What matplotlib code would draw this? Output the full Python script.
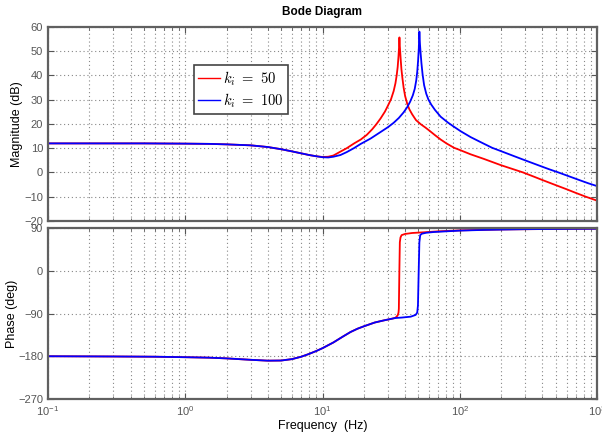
import matplotlib
matplotlib.use("Agg")
from matplotlib import pyplot as plt
from matplotlib.ticker import LogLocator, NullFormatter, FixedLocator

# values
f_mag_red = [0.1, 0.2, 0.5, 1.0, 1.5, 2.0, 3.0, 4.0, 5.0, 6.0, 7.0, 8.0, 9.0, 10.0, 11.0,
             12.0, 13.5, 15.0, 17.0, 19.0, 21.0, 23.0, 24.6, 26.5, 28.5, 30.0, 31.6, 33.0,
             34.0, 34.7, 35.3, 35.8, 36.1, 36.35, 36.6, 36.9, 37.2, 37.6, 38.2, 39.0, 40.0,
             41.5, 43.0, 45.0, 48.0, 52.0, 56.0, 60.0, 66.0, 72.6, 80.0, 90.8, 100.0, 120.0,
             150.0, 200.0, 250.0, 290.0, 350.0, 400.0, 500.0, 600.0, 700.0, 830.0, 1000.0]
mag_red = [12.0, 12.0, 12.0, 11.9, 11.8, 11.6, 11.2, 10.5, 9.6, 8.7, 7.9, 7.2, 6.7, 6.4, 6.5,
           7.0, 8.6, 10.0, 12.0, 13.6, 15.5, 17.8, 19.8, 22.3, 25.1, 27.6, 30.3, 33.6,
           36.8, 40.0, 43.5, 48.0, 51.5, 55.7, 52.0, 49.0, 46.0, 42.5, 39.0, 35.0, 31.5,
           28.2, 26.0, 24.0, 21.6, 19.9, 18.6, 17.3, 15.4, 13.6, 12.0, 10.2, 9.3, 7.5,
           5.6, 3.0, 1.2, 0.0, -1.8, -3.1, -5.2, -6.9, -8.4, -10.0, -11.6]

f_mag_blue = [0.1, 0.2, 0.5, 1.0, 1.5, 2.0, 3.0, 4.0, 5.0, 6.0, 7.0, 8.0, 9.0, 10.0, 11.0,
              12.0, 13.5, 15.0, 16.9, 19.0, 22.4, 26.5, 30.0, 33.0, 36.0, 39.0, 41.5, 43.5,
              45.5, 47.0, 48.2, 49.0, 49.7, 50.3, 50.8, 51.3, 51.9, 52.6, 53.6, 55.0, 57.0,
              59.2, 62.0, 66.0, 72.6, 82.0, 90.0, 101.7, 120.0, 140.0, 172.0, 200.0, 250.0,
              300.0, 390.0, 450.0, 525.0, 600.0, 750.0, 870.0, 1000.0]
mag_blue = [12.0, 12.0, 12.0, 11.9, 11.8, 11.6, 11.2, 10.5, 9.6, 8.7, 7.9, 7.2, 6.7, 6.3, 6.2,
            6.5, 7.2, 8.4, 10.0, 11.8, 14.0, 16.7, 18.7, 20.5, 22.5, 24.8, 27.0, 29.2,
            31.8, 34.5, 38.0, 41.5, 46.0, 51.0, 58.1, 53.0, 49.0, 45.0, 40.5, 36.0, 32.5,
            30.0, 28.0, 25.8, 23.0, 20.6, 19.0, 17.0, 14.6, 12.7, 10.2, 8.8, 6.7,
            5.0, 2.6, 1.3, 0.0, -1.2, -3.2, -4.5, -5.6]

f_ph_red = [0.1, 0.3, 0.6, 1.0, 1.5, 2.0, 3.0, 4.0, 5.0, 6.0, 7.0, 8.0, 9.0, 10.0, 12.0,
            14.0, 16.0, 18.0, 20.0, 24.0, 28.0, 32.0, 34.0, 35.3, 35.8, 36.0, 36.3, 36.6,
            37.0, 37.7, 40.0, 45.0, 55.0, 70.0, 100.0, 200.0, 500.0, 1000.0]
ph_red = [-180.0, -180.5, -181.0, -182.0, -183.0, -184.5, -187.5, -189.3, -189.0, -186.0,
          -181.0, -175.0, -169.0, -163.0, -151.0, -139.0, -129.0, -122.0, -117.0, -109.0,
          -104.5, -101.0, -99.0, -94.0, -88.0, -80.0, -3.0, 60.0, 70.0, 75.0, 77.5, 79.5,
          81.0, 83.0, 85.0, 87.0, 88.0, 88.5]

f_ph_blue = [0.1, 0.3, 0.6, 1.0, 1.5, 2.0, 3.0, 4.0, 5.0, 6.0, 7.0, 8.0, 9.0, 10.0, 12.0,
             14.0, 16.0, 18.0, 20.0, 24.0, 28.0, 32.0, 34.0, 38.0, 43.9, 47.7, 49.0, 49.6,
             50.2, 50.8, 51.5, 53.0, 57.0, 65.0, 80.0, 100.0, 150.0, 300.0, 1000.0]
ph_blue = [-180.0, -180.5, -181.0, -182.0, -183.0, -184.5, -187.5, -189.3, -189.0, -186.0,
           -181.0, -175.0, -169.0, -163.0, -151.0, -139.0, -129.0, -122.0, -117.0, -109.0,
           -104.5, -101.0, -99.5, -98.5, -96.7, -93.0, -88.0, -73.0, -3.0, 60.0, 75.0, 78.0,
           80.0, 81.6, 83.0, 84.5, 86.0, 87.5, 88.5]

labels = [r'$k_i\ =\ 50$', r'$k_i\ =\ 100$']
mag_ticks = [-20, -10, 0, 10, 20, 30, 40, 50, 60]
ph_ticks = [-270, -180, -90, 0, 90]

plt.rcParams['font.family'] = ['Liberation Sans', 'DejaVu Sans']
plt.rcParams['mathtext.fontset'] = 'cm'

frame = '#606060'
tick_col = '#555555'
grid_kw = dict(linestyle=(0, (1, 2.5)), color='#888888', lw=0.8)

fig = plt.figure(figsize=(6.02, 4.36), dpi=100)
ax1 = fig.add_axes([48 / 602, 1 - 221 / 436, 549 / 602, 194 / 436])
ax2 = fig.add_axes([48 / 602, 1 - 399 / 436, 549 / 602, 171 / 436])

ax1.plot(f_mag_red, mag_red, color='#ff0000', lw=1.3, label=labels[0])
ax1.plot(f_mag_blue, mag_blue, color='#0000ff', lw=1.3, label=labels[1])
ax2.plot(f_ph_red, ph_red, color='#ff0000', lw=1.3)
ax2.plot(f_ph_blue, ph_blue, color='#0000ff', lw=1.3)

for ax in (ax1, ax2):
    ax.set_xscale('log')
    ax.set_xlim(0.1, 1000)
    ax.xaxis.set_major_locator(LogLocator(base=10))
    ax.xaxis.set_minor_locator(LogLocator(base=10, subs=range(2, 10)))
    ax.xaxis.set_minor_formatter(NullFormatter())
    ax.grid(True, which='both', axis='x', **grid_kw)
    ax.grid(True, which='major', axis='y', **grid_kw)
    ax.tick_params(which='both', direction='in', top=True, right=True,
                   colors=tick_col, labelsize=8, labelcolor=tick_col)
    ax.tick_params(which='major', length=4)
    ax.tick_params(which='minor', length=2)
    for s in ax.spines.values():
        s.set_color(frame)
        s.set_linewidth(1.6)

ax1.set_ylim(-20, 60)
ax1.yaxis.set_major_locator(FixedLocator(mag_ticks))
ax1.tick_params(axis='x', labelbottom=False)
ax1.set_ylabel('Magnitude (dB)', fontsize=9, labelpad=1)
ax1.set_title('Bode Diagram', fontsize=8.5, fontweight='bold', pad=9)

ax2.set_ylim(-270, 90)
ax2.yaxis.set_major_locator(FixedLocator(ph_ticks))
ax2.set_ylabel('Phase (deg)', fontsize=9, labelpad=0)
ax2.set_xlabel('Frequency  (Hz)', fontsize=9, labelpad=2)

leg = ax1.legend(loc='upper left', bbox_to_anchor=(0.266, 0.805), fontsize=10.5,
                 fancybox=False, framealpha=1, edgecolor='#444444',
                 handlelength=1.5, handletextpad=0.2, borderpad=0.3, labelspacing=0.25,
                 borderaxespad=0.0)
leg.get_frame().set_linewidth(1.2)
for ln in leg.get_lines():
    ln.set_linewidth(1.0)

fig.savefig('out.png', dpi=100)
